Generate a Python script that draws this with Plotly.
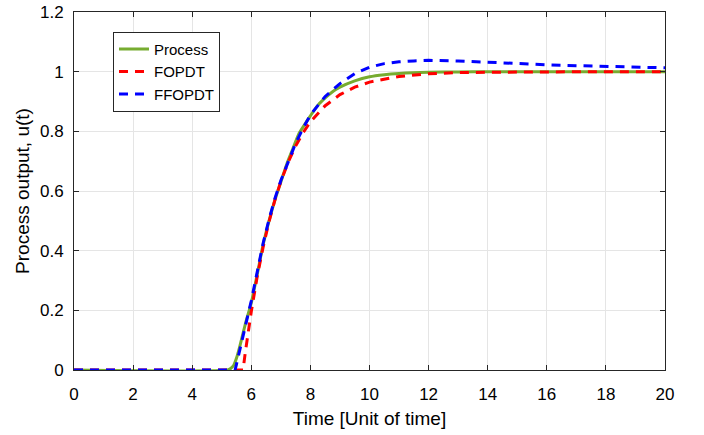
import plotly.graph_objects as go

# ---- data ----
t_process = [0, 5.2, 5.3, 5.4, 5.5, 5.6, 5.7, 5.8, 5.9, 6.0, 6.2, 6.4, 6.6, 6.8, 7.0,
             7.2, 7.4, 7.6, 7.8, 8.0, 8.25, 8.5, 8.75, 9.0, 9.5, 10, 10.5, 11, 12,
             13, 14, 16, 18, 20]
y_process = [0, 0, 0.005, 0.015, 0.04, 0.075, 0.115, 0.155, 0.19, 0.225, 0.32, 0.42,
             0.50, 0.57, 0.63, 0.69, 0.74, 0.79, 0.822, 0.852, 0.887, 0.912, 0.933,
             0.948, 0.969, 0.983, 0.990, 0.994, 0.998, 0.999, 1.0, 1.0, 1.0, 1.0]

t_fopdt = [0, 5.72, 5.8, 5.9, 6.0, 6.2, 6.4, 6.6, 6.8, 7.0, 7.25, 7.5, 7.75, 8.0, 8.5,
           9, 9.5, 10, 11, 12, 13, 14, 16, 18, 20]
y_fopdt = [0, 0, 0.061, 0.131, 0.196, 0.313, 0.412, 0.497, 0.570, 0.632, 0.697, 0.751,
           0.795, 0.832, 0.886, 0.923, 0.948, 0.965, 0.984, 0.993, 0.997, 0.998, 1.0,
           1.0, 1.0]

t_ffopdt = [0, 5.45, 5.5, 5.6, 5.7, 5.8, 5.9, 6.0, 6.2, 6.4, 6.6, 6.8, 7.0, 7.25, 7.5,
            7.75, 8.0, 8.5, 9, 9.5, 10, 10.5, 11, 11.5, 12, 13, 14, 15, 16, 17, 18, 19, 20]
y_ffopdt = [0, 0, 0.02, 0.06, 0.10, 0.145, 0.19, 0.232, 0.33, 0.425, 0.505, 0.575,
            0.635, 0.70, 0.76, 0.81, 0.855, 0.917, 0.96, 0.993, 1.015, 1.027, 1.033,
            1.036, 1.038, 1.036, 1.031, 1.027, 1.023, 1.020, 1.017, 1.015, 1.013]

x_ticks = [0, 2, 4, 6, 8, 10, 12, 14, 16, 18, 20]
y_ticks = [0, 0.2, 0.4, 0.6, 0.8, 1, 1.2]
y_tick_labels = ["0", "0.2", "0.4", "0.6", "0.8", "1", "1.2"]

FONT = "Liberation Sans, Arial, Helvetica, sans-serif"
AX = "#262626"

fig = go.Figure()
fig.add_trace(go.Scatter(x=t_process, y=y_process, mode="lines", name="Process",
                         line=dict(color="#77AC30", width=3, shape="spline", smoothing=0.6)))
fig.add_trace(go.Scatter(x=t_fopdt, y=y_fopdt, mode="lines", name="FOPDT",
                         line=dict(color="#FF0000", width=3, dash="9px,7px")))
fig.add_trace(go.Scatter(x=t_ffopdt, y=y_ffopdt, mode="lines", name="FFOPDT",
                         line=dict(color="#0000FF", width=3, dash="9px,7px")))

axis_common = dict(
    showline=True, linecolor=AX, linewidth=1, mirror="ticks",
    ticks="inside", ticklen=5, tickwidth=1, tickcolor=AX,
    showgrid=True, gridcolor="#E5E5E5", gridwidth=1,
    zeroline=False, automargin=False,
    tickfont=dict(family=FONT, size=17, color="black"),
)

fig.update_layout(
    width=704, height=435,
    margin=dict(l=74, r=39, t=12, b=65),
    paper_bgcolor="white", plot_bgcolor="white",
    font=dict(family=FONT, color="black"),
    xaxis=dict(range=[0, 20], tickvals=x_ticks, ticktext=[str(v) for v in x_ticks],
               title=dict(text="Time [Unit of time]", font=dict(family=FONT, size=19), standoff=8),
               ticklabelstandoff=9, **axis_common),
    yaxis=dict(range=[0, 1.2], tickvals=y_ticks, ticktext=y_tick_labels,
               title=dict(text="Process output, u(t)", font=dict(family=FONT, size=19), standoff=5),
               ticklabelstandoff=6, **axis_common),
    legend=dict(x=0.066, y=0.945, xanchor="left", yanchor="top",
                bgcolor="white", bordercolor=AX, borderwidth=1,
                font=dict(family=FONT, size=15, color="black"),
                tracegroupgap=0),
    showlegend=True,
)

fig.write_html("out.html")
